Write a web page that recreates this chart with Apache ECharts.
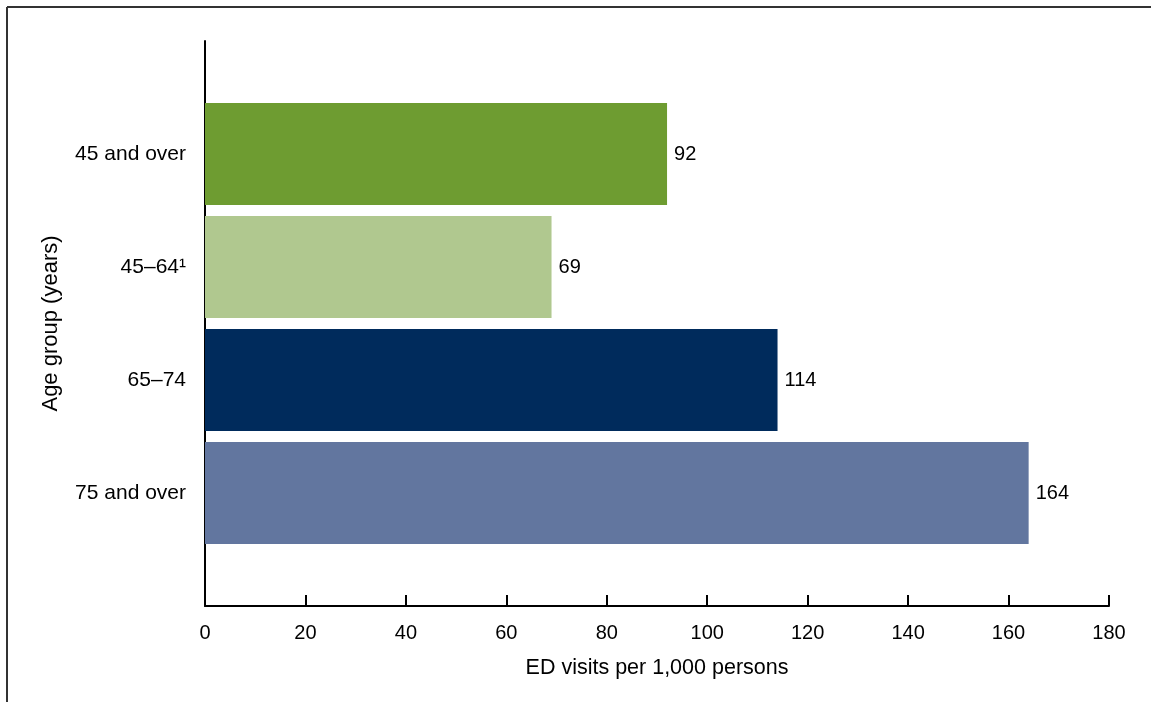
<!DOCTYPE html>
<html>
<head>
<meta charset="utf-8">
<script src="https://cdn.jsdelivr.net/npm/echarts@6/dist/echarts.min.js"></script>
<style>
html,body{margin:0;padding:0;background:#fff;}
#chart{width:1151px;height:702px;}
</style>
</head>
<body>
<div id="chart"></div>
<script>
const categories = ['45 and over', '45–64¹', '65–74', '75 and over'];
const values = [92, 69, 114, 164];
const barColors = ['#6e9c31', '#b0c88f', '#002b5c', '#62769f'];
const xTicks = [0, 20, 40, 60, 80, 100, 120, 140, 160, 180];
const xTitle = 'ED visits per 1,000 persons';
const yTitle = 'Age group (years)';

const FONT = '"Liberation Sans", Arial, sans-serif';
const axisCats = [''].concat(categories, ['']);
const barData = ['-'].concat(values.map((v, i) => ({
  value: v,
  itemStyle: { color: barColors[i] }
})), ['-']);

const chart = echarts.init(document.getElementById('chart'), null, { renderer: 'canvas' });
chart.setOption({
  animation: false,
  backgroundColor: '#fff',
  grid: { left: 205, right: 42, top: 41, bottom: 96, containLabel: false },
  xAxis: {
    type: 'value',
    min: xTicks[0],
    max: xTicks[xTicks.length - 1],
    interval: xTicks[1] - xTicks[0],
    name: xTitle,
    nameLocation: 'middle',
    nameGap: 51,
    nameTextStyle: { fontFamily: FONT, fontSize: 21.5, color: '#000' },
    axisLine: { show: true, lineStyle: { color: '#000', width: 2 } },
    axisTick: { show: true, inside: true, length: 11, lineStyle: { color: '#000', width: 2 } },
    axisLabel: { fontFamily: FONT, fontSize: 20, color: '#000', margin: 17 },
    splitLine: { show: false }
  },
  yAxis: {
    type: 'category',
    data: axisCats,
    inverse: true,
    boundaryGap: false,
    name: yTitle,
    nameLocation: 'middle',
    nameGap: 143,
    nameTextStyle: { fontFamily: FONT, fontSize: 22, color: '#000' },
    axisLine: { show: true, lineStyle: { color: '#000', width: 2 } },
    axisTick: { show: false },
    axisLabel: { fontFamily: FONT, fontSize: 21, color: '#000', margin: 19 },
    splitLine: { show: false }
  },
  series: [{
    type: 'bar',
    data: barData,
    barWidth: 102,
    label: {
      show: true,
      position: 'right',
      distance: 7,
      fontFamily: FONT,
      fontSize: 20,
      color: '#000'
    }
  }],
  graphic: [
    { type: 'line', shape: { x1: 7, y1: 7, x2: 1151, y2: 7 }, style: { stroke: '#333', lineWidth: 2 } },
    { type: 'line', shape: { x1: 7, y1: 7, x2: 7, y2: 702 }, style: { stroke: '#333', lineWidth: 2 } }
  ]
});
</script>
</body>
</html>
